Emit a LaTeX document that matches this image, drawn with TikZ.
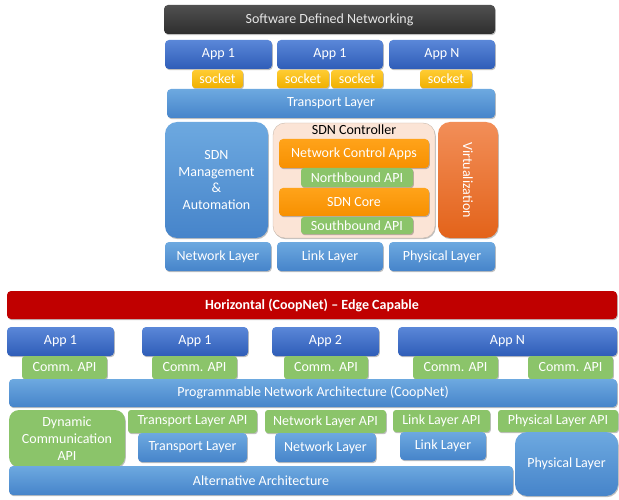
\documentclass[tikz,border=0pt]{standalone}
\usepackage{fontspec}
\setmainfont{Carlito}
\usetikzlibrary{shadows}
\definecolor{appT}{HTML}{5A87D8}
\definecolor{appB}{HTML}{2F5DB8}
\definecolor{layT}{HTML}{6DA9E0}
\definecolor{layB}{HTML}{4684CA}
\definecolor{sockT}{HTML}{FFCC33}
\definecolor{sockB}{HTML}{F0B000}
\definecolor{grn}{HTML}{8BC46A}
\definecolor{orgT}{HTML}{FFA31A}
\definecolor{orgB}{HTML}{F79000}
\definecolor{virL}{HTML}{E3631A}
\definecolor{virR}{HTML}{F28E58}
\definecolor{ctlF}{HTML}{FBE4D6}
\definecolor{ctlD}{HTML}{C9B9AC}
\definecolor{titT}{HTML}{505050}
\definecolor{titB}{HTML}{2E2E2E}
\definecolor{titTx}{HTML}{E6E6E6}
\definecolor{redB}{HTML}{C00000}
\newcommand\bx[7]{\node[#6, inner sep=0pt, minimum width={(#4-#2)*1pt}, minimum height={(#5-#3)*1pt}] (#1) at ({(#2+#4)/2},{(#3+#5)/2}) {#7};}
\tikzset{
  fnt/.style={font=\fontsize{14}{16.7}\selectfont},
  base/.style={draw=none, text=white, fnt, align=center,
    drop shadow={shadow xshift=0.8pt, shadow yshift=-1.2pt, opacity=0.25, fill=black}},
  appbox/.style={base, rounded corners=4pt, top color=appT, bottom color=appB},
  laybox/.style={base, rounded corners=4pt, top color=layT, bottom color=layB},
  bigbox/.style={base, rounded corners=12pt, top color=layT, bottom color=layB},
  sockbox/.style={base, rounded corners=3pt, top color=sockT, bottom color=sockB},
  grnbox/.style={base, rounded corners=3pt, fill=grn},
  biggrn/.style={base, rounded corners=10pt, fill=grn},
  orgbox/.style={base, rounded corners=4pt, top color=orgT, bottom color=orgB},
}
\begin{document}
\begin{tikzpicture}[x=1pt,y=-1pt]
\useasboundingbox (0,0) rectangle (619,500);
% ---------- SDN part ----------
\bx{title}{164}{5}{495}{34}{base, rounded corners=4pt, top color=titT, bottom color=titB, text=titTx}{Software Defined Networking}
\bx{appa}{165}{40}{272}{69}{appbox}{App 1}
\bx{appb}{277}{40}{383}{69}{appbox}{App 1}
\bx{appc}{389}{40}{495}{69}{appbox}{App N}
\bx{sa}{192}{70}{243}{88}{sockbox}{socket}
\bx{sb}{277}{70}{329}{88}{sockbox}{socket}
\bx{sc}{331}{70}{383}{88}{sockbox}{socket}
\bx{sd}{420}{70}{472}{88}{sockbox}{socket}
\bx{trans}{167}{89}{495}{118}{laybox}{Transport Layer}
\bx{mgmt}{165}{122}{268}{238}{bigbox}{SDN\\Management\\\&\\Automation}
\bx{ctl}{273}{123}{435}{238}{base, rounded corners=12pt, fill=ctlF, draw=ctlD, drop shadow={opacity=0}}{}
\node[fnt, inner sep=0pt] (ctlT) at (354,130) {SDN Controller};
\bx{nca}{279}{139}{429}{168}{orgbox}{Network Control Apps}
\bx{nb}{301}{168}{413}{187}{grnbox}{Northbound API}
\bx{core}{279}{188}{429}{216}{orgbox}{SDN Core}
\bx{sb2}{301}{217}{413}{234}{grnbox}{Southbound API}
\node[base, rounded corners=12pt, top color=virR, bottom color=virL, rotate=-90, inner sep=0pt,
  minimum width=116pt, minimum height=60pt] (virt) at (468,180) {Virtualization};
\bx{netl}{165}{242}{271}{271}{laybox}{Network Layer}
\bx{linkl}{277}{242}{383}{271}{laybox}{Link Layer}
\bx{phyl}{389}{242}{495}{271}{laybox}{Physical Layer}
% ---------- CoopNet part ----------
\bx{horiz}{7}{291}{617}{319}{base, rounded corners=4pt, fill=redB, font=\fontsize{14}{16.7}\selectfont\bfseries}{Horizontal (CoopNet) -- Edge Capable}
\bx{ca}{7}{327}{114}{356}{appbox}{App 1}
\bx{cb}{142}{327}{248}{356}{appbox}{App 1}
\bx{cc}{272}{327}{379}{356}{appbox}{App 2}
\bx{cd}{398}{327}{617}{356}{appbox}{App N}
\bx{ga}{22}{356}{107}{379}{grnbox}{Comm. API}
\bx{gb}{152}{356}{237}{379}{grnbox}{Comm. API}
\bx{gc}{284}{356}{368}{379}{grnbox}{Comm. API}
\bx{gd}{413}{356}{498}{379}{grnbox}{Comm. API}
\bx{ge}{528}{356}{613}{379}{grnbox}{Comm. API}
\bx{prog}{9}{379}{617}{407}{laybox}{Programmable Network Architecture (CoopNet)}
\bx{dyn}{9}{410}{125}{467}{biggrn}{Dynamic\\Communication\\API}
\bx{tapi}{128}{410}{257}{433}{grnbox}{Transport Layer API}
\bx{napi}{265}{410}{386}{433}{grnbox}{Network Layer API}
\bx{lapi}{393}{410}{490}{432}{grnbox}{Link Layer API}
\bx{papi}{498}{410}{618}{432}{grnbox}{Physical Layer API}
\bx{alt}{9}{466}{513}{495}{laybox}{Alternative Architecture}
\bx{tl}{138}{433}{247}{462}{laybox}{Transport Layer}
\bx{nl}{275}{433}{376}{462}{laybox}{Network Layer}
\bx{ll}{400}{432}{486}{460}{laybox}{Link Layer}
\bx{pl}{515}{432}{618}{496}{bigbox}{Physical Layer}
\end{tikzpicture}
\end{document}
